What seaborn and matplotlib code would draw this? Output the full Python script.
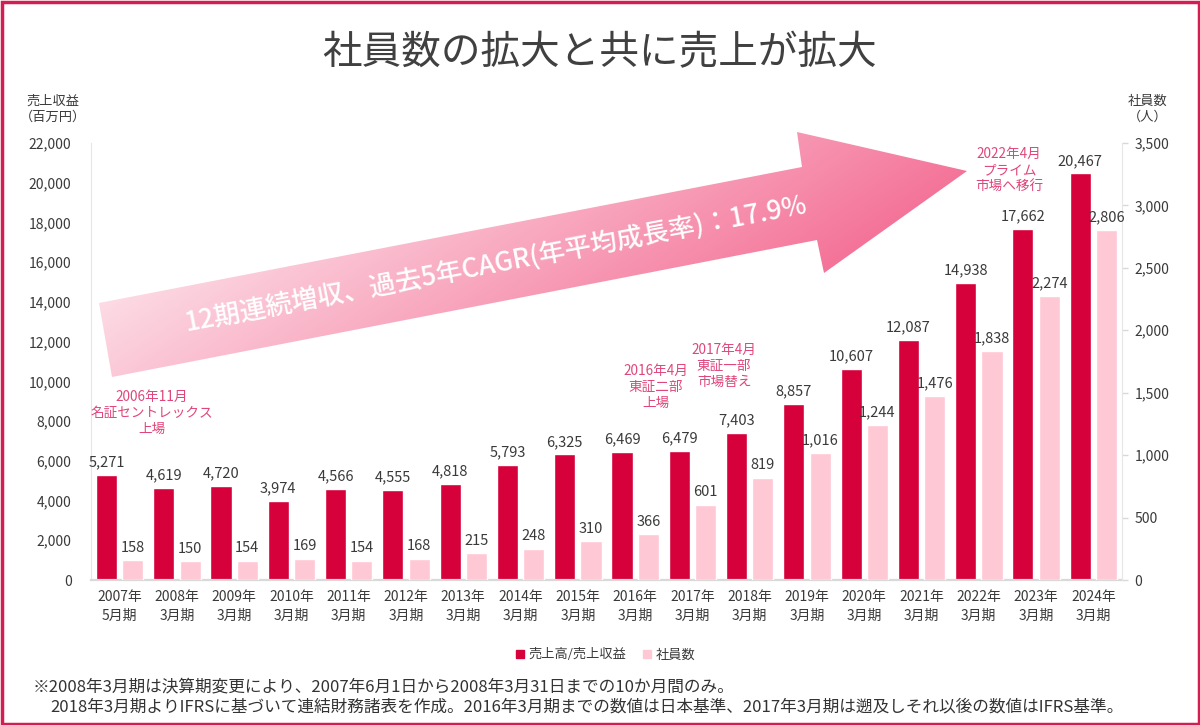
import numpy as np
import pandas as pd
import matplotlib
matplotlib.use("Agg")
import matplotlib.pyplot as plt
import seaborn as sns
from matplotlib.lines import Line2D
from matplotlib.patches import Polygon, Rectangle
from matplotlib.ticker import StrMethodFormatter

# ---- data ----
years = ["2007年", "2008年", "2009年", "2010年", "2011年", "2012年", "2013年", "2014年", "2015年",
         "2016年", "2017年", "2018年", "2019年", "2020年", "2021年", "2022年", "2023年", "2024年"]
periods = ["5月期"] + ["3月期"] * 17
revenue = [5271, 4619, 4720, 3974, 4566, 4555, 4818, 5793, 6325,
           6469, 6479, 7403, 8857, 10607, 12087, 14938, 17662, 20467]
employees = [158, 150, 154, 169, 154, 168, 215, 248, 310,
             366, 601, 819, 1016, 1244, 1476, 1838, 2274, 2806]
series = ["売上高/売上収益", "社員数"]
colors = ["#D6003A", "#FFC8D5"]
left_ticks = list(range(0, 22001, 2000))
right_ticks = list(range(0, 3501, 500))

title = "社員数の拡大と共に売上が拡大"
arrow_text = "12期連続増収、過去5年CAGR(年平均成長率)：17.9%"
events = ["2006年11月\n名証セントレックス\n上場", "2016年4月\n東証二部\n上場",
          "2017年4月\n東証一部\n市場替え", "2022年4月\nプライム\n市場へ移行"]
notes = ["※2008年3月期は決算期変更により、2007年6月1日から2008年3月31日までの10か月間のみ。",
         "2018年3月期よりIFRSに基づいて連結財務諸表を作成。2016年3月期までの数値は日本基準、2017年3月期は遡及しそれ以後の数値はIFRS基準。"]

sns.set_style("white")
plt.rcParams["font.family"] = ["Noto Sans CJK JP", "DejaVu Sans"]

labels = [f"{y}\n{p}" for y, p in zip(years, periods)]
df_rev = pd.DataFrame({"period": labels, "value": revenue, "series": series[0]})
df_emp = pd.DataFrame({"period": labels, "value": employees, "series": series[1]})
pal = dict(zip(series, colors))

W, H = 1200, 725
fig = plt.figure(figsize=(12, 7.25), dpi=100)
fig.patch.set_facecolor("white")
ax = fig.add_axes([91 / W, 145 / H, 1031 / W, 437 / H])
ax2 = ax.twinx()

sns.barplot(data=df_rev, x="period", y="value", hue="series", hue_order=series, order=labels,
            palette=pal, dodge=True, width=0.92, gap=0.2, saturation=1, errorbar=None,
            legend=False, ax=ax)
sns.barplot(data=df_emp, x="period", y="value", hue="series", hue_order=series, order=labels,
            palette=pal, dodge=True, width=0.92, gap=0.2, saturation=1, errorbar=None,
            legend=False, ax=ax2)

ax.set_xlim(-0.5, len(labels) - 0.5)
ax.set_ylim(0, 22000)
ax2.set_ylim(0, 3500)
ax.set_yticks(left_ticks)
ax2.set_yticks(right_ticks)
ax.yaxis.set_major_formatter(StrMethodFormatter("{x:,.0f}"))
ax2.yaxis.set_major_formatter(StrMethodFormatter("{x:,.0f}"))
ax.set_xticks(range(len(labels)))
ax.set_xticklabels(labels, linespacing=1.5)
for a in (ax, ax2):
    a.set_xlabel("")
    a.set_ylabel("")

txt = "#3a3a3a"
ax.tick_params(axis="x", length=0, pad=7, labelsize=10, labelcolor=txt)
ax.tick_params(axis="y", length=0, pad=14, labelsize=10, labelcolor=txt)
ax2.tick_params(axis="y", length=4, width=1, color="#D8D8D8", pad=5, labelsize=10, labelcolor=txt)

for s in ["top", "right"]:
    ax.spines[s].set_visible(False)
for s in ["top", "left", "bottom"]:
    ax2.spines[s].set_visible(False)
ax.spines["left"].set_color("#E6E6E6")
ax.spines["bottom"].set_color("#D9D9D9")
ax.spines["bottom"].set_linewidth(1.6)
ax2.spines["right"].set_color("#E6E6E6")

for c in ax.containers:
    if len(c):
        ax.bar_label(c, fmt="{:,.0f}", padding=4, fontsize=10.5, color=txt)
for c in ax2.containers:
    if len(c):
        ax2.bar_label(c, fmt="{:,.0f}", padding=4, fontsize=10.5, color=txt)

# ---- overlay in pixel coordinates for decorations ----
ov = fig.add_axes([0, 0, 1, 1], zorder=5)
ov.set_xlim(0, W)
ov.set_ylim(H, 0)
ov.axis("off")
ov.patch.set_alpha(0)

verts = [(99, 303), (802, 167), (797, 132), (967, 171), (824, 273), (817, 240), (112, 377)]
poly = Polygon(verts, closed=True, facecolor="none", edgecolor="none", transform=ov.transData)
ov.add_patch(poly)
yy, xx = np.mgrid[0:H, 0:W] + 0.5
d = np.array([967 - 105.5, 171 - 340.0])
L = np.hypot(*d)
d /= L
n = np.array([-d[1], d[0]])
t = ((xx - 105.5) * d[0] + (yy - 340) * d[1]) / L
sn = ((xx - 105.5) * n[0] + (yy - 340) * n[1]) / 90.0
f = np.clip(0.14 + 0.82 * t + 0.2 * sn, 0, 1)
c0 = np.array([253, 226, 234]) / 255.0
c1 = np.array([244, 112, 150]) / 255.0
img = c0[None, None, :] + (c1 - c0)[None, None, :] * f[..., None]
im = ov.imshow(img, extent=[0, W, H, 0], origin="upper", aspect="auto", zorder=1, interpolation="bilinear")
im.set_clip_path(poly)
ov.set_xlim(0, W)
ov.set_ylim(H, 0)

ov.text(496, 265, arrow_text, color="white", fontsize=19, fontweight="medium",
        rotation=10.8, rotation_mode="anchor", ha="center", va="center", zorder=3)

ov.text(600, 53, title, fontsize=28.5, color="#404040", ha="center", va="center", zorder=3)
ov.text(53, 109, "売上収益\n（百万円）", fontsize=9.5, color=txt, ha="center", va="center",
        linespacing=1.25, zorder=3)
ov.text(1148, 109, "社員数\n（人）", fontsize=9.5, color=txt, ha="center", va="center",
        linespacing=1.25, zorder=3)

ev_color = "#E0467C"
ev_pos = [(152, 413), (656, 387), (724, 366), (1009, 170)]
for (x, y), s in zip(ev_pos, events):
    ov.text(x, y, s, fontsize=9.8, color=ev_color, ha="center", va="center", linespacing=1.15, zorder=3)

ov.text(33, 687, notes[0], fontsize=12, color="#333333", ha="left", va="center", zorder=3)
ov.text(50, 707, notes[1], fontsize=12, color="#333333", ha="left", va="center", zorder=3)

ov.add_patch(Rectangle((1.5, 1.5), W - 3, H - 3, fill=False, edgecolor="#D41E52", lw=2.5, zorder=4))

handles = [Line2D([], [], marker="s", linestyle="", color=c, markersize=6) for c in colors]
fig.legend(handles, series, loc="center", bbox_to_anchor=(605 / W, 70 / H), ncol=2, frameon=False,
           fontsize=9.5, handlelength=0.7, handletextpad=0.3, columnspacing=1.2, labelcolor=txt)

fig.savefig("out.png", dpi=100)
